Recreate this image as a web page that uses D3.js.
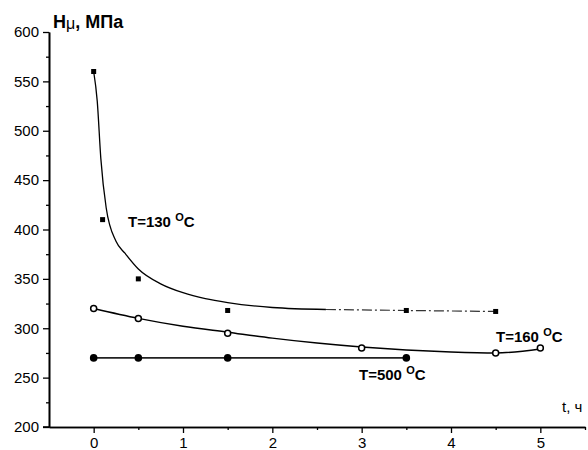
<!DOCTYPE html>
<html>
<head>
<meta charset="utf-8">
<script src="https://cdn.jsdelivr.net/npm/d3@7"></script>
<style>
  body { margin: 0; background: #fff; }
  svg { display: block; font-family: Arial, "Liberation Sans", sans-serif; }
</style>
</head>
<body>
<svg id="chart" width="588" height="450"></svg>
<script>
// измеренные точки, t (ч) -> Hμ (МПа)
const t130 = [0, 0.1, 0.5, 1.5, 3.5, 4.5];
const h130 = [560, 410, 350, 318, 318, 317];
const t160 = [0, 0.5, 1.5, 3, 4.5, 5];
const h160 = [320, 310, 295, 280, 275, 280];
const t500 = [0, 0.5, 1.5, 3.5];
const h500 = [270, 270, 270, 270];

// сглаживающая кривая для 130 °C
const fit130 = [[0, 560], [0.04, 530], [0.08, 472], [0.14, 422], [0.25, 388], [0.35, 376],
  [0.5, 360], [0.75, 345], [1, 336], [1.25, 330], [1.5, 326], [2, 321], [2.6, 319]];
const tail130 = [[2.6, 319], [3.5, 318], [4.5, 317]];
// кривая для 160 °C
const fit160 = [[0, 320], [0.5, 310], [1, 302], [1.5, 296], [2, 290], [2.5, 285], [3, 281],
  [3.5, 278], [4, 276], [4.5, 275], [5, 279]];

const xTicks = [0, 1, 2, 3, 4, 5];
const xMinor = [0.5, 1.5, 2.5, 3.5, 4.5, 5.5];
const yTicks = [200, 250, 300, 350, 400, 450, 500, 550, 600];
const yMinor = [225, 275, 325, 375, 425, 475, 525, 575];

const svg = d3.select("#chart");
const x = d3.scaleLinear().domain([-0.5, 5.5]).range([49, 585]);
const y = d3.scaleLinear().domain([200, 600]).range([427, 32]);

// оси
svg.append("g").attr("transform", "translate(49,0)")
  .call(d3.axisLeft(y).tickValues(yTicks).tickSize(6).tickSizeOuter(0).tickPadding(4));
svg.append("g").attr("transform", "translate(49,0)")
  .call(d3.axisLeft(y).tickValues(yMinor).tickSize(3).tickFormat("").tickSizeOuter(0));
svg.append("g").attr("transform", "translate(0,427)")
  .call(d3.axisBottom(x).tickValues(xTicks).tickFormat(d3.format("d"))
    .tickSize(6).tickSizeOuter(0).tickPadding(4));
svg.append("g").attr("transform", "translate(0,427)")
  .call(d3.axisBottom(x).tickValues(xMinor).tickSize(3).tickFormat("").tickSizeOuter(0));

svg.selectAll(".domain").attr("stroke", "#000").attr("stroke-width", 1.6);
svg.selectAll(".tick line").attr("stroke", "#000").attr("stroke-width", 1.3);
svg.selectAll(".tick text").attr("font-size", 15).attr("fill", "#000")
  .attr("font-family", "Arial, 'Liberation Sans', sans-serif");
// левый край оси x немного выходит за ось y
svg.append("line").attr("x1", 43).attr("x2", 49).attr("y1", 427).attr("y2", 427)
  .attr("stroke", "#000").attr("stroke-width", 1.6);

// линии
const line = d3.line().x(d => x(d[0])).y(d => y(d[1]));
svg.append("path")
  .attr("d", line.curve(d3.curveMonotoneX)(fit130))
  .attr("fill", "none").attr("stroke", "#000").attr("stroke-width", 1.3);
svg.append("path")
  .attr("d", line.curve(d3.curveLinear)(tail130))
  .attr("fill", "none").attr("stroke", "#333").attr("stroke-width", 1.2)
  .attr("stroke-dasharray", "10,3,2,3");
svg.append("path")
  .attr("d", line.curve(d3.curveMonotoneX)(fit160))
  .attr("fill", "none").attr("stroke", "#000").attr("stroke-width", 1.4);
svg.append("path")
  .attr("d", line.curve(d3.curveLinear)(t500.map((t, i) => [t, h500[i]])))
  .attr("fill", "none").attr("stroke", "#222").attr("stroke-width", 1.8);

// маркеры
svg.selectAll(".sq").data(t130.map((t, i) => [t, h130[i]])).enter()
  .append("rect")
  .attr("x", d => x(d[0]) - 2.5).attr("y", d => y(d[1]) - 2.5)
  .attr("width", 5).attr("height", 5).attr("fill", "#000");
svg.selectAll(".oc").data(t160.map((t, i) => [t, h160[i]])).enter()
  .append("circle")
  .attr("cx", d => x(d[0])).attr("cy", d => y(d[1])).attr("r", 3)
  .attr("fill", "#fff").attr("stroke", "#000").attr("stroke-width", 1.5);
svg.selectAll(".fc").data(t500.map((t, i) => [t, h500[i]])).enter()
  .append("circle")
  .attr("cx", d => x(d[0])).attr("cy", d => y(d[1])).attr("r", 3.8)
  .attr("fill", "#000");

// подписи
function tLabel(px, py, txt) {
  const tx = svg.append("text").attr("x", px).attr("y", py)
    .attr("font-size", 15).attr("font-weight", "bold").attr("fill", "#000");
  tx.append("tspan").text(txt + " ");
  tx.append("tspan").attr("font-size", 11).attr("dy", -6).text("O");
  tx.append("tspan").attr("dy", 6).text("C");
}
tLabel(128, 227, "T=130");
tLabel(496, 342, "T=160");
tLabel(359, 380, "T=500");

const title = svg.append("text").attr("x", 53).attr("y", 28)
  .attr("font-size", 18).attr("font-weight", "bold").attr("fill", "#000");
title.append("tspan").text("H");
title.append("tspan").attr("font-weight", "normal").attr("font-size", 16).attr("dy", 1).text("μ");
title.append("tspan").attr("dy", -1).text(", МПа");

svg.append("text").attr("x", 562).attr("y", 412)
  .attr("font-size", 15).attr("fill", "#000").text("t, ч");
</script>
</body>
</html>
